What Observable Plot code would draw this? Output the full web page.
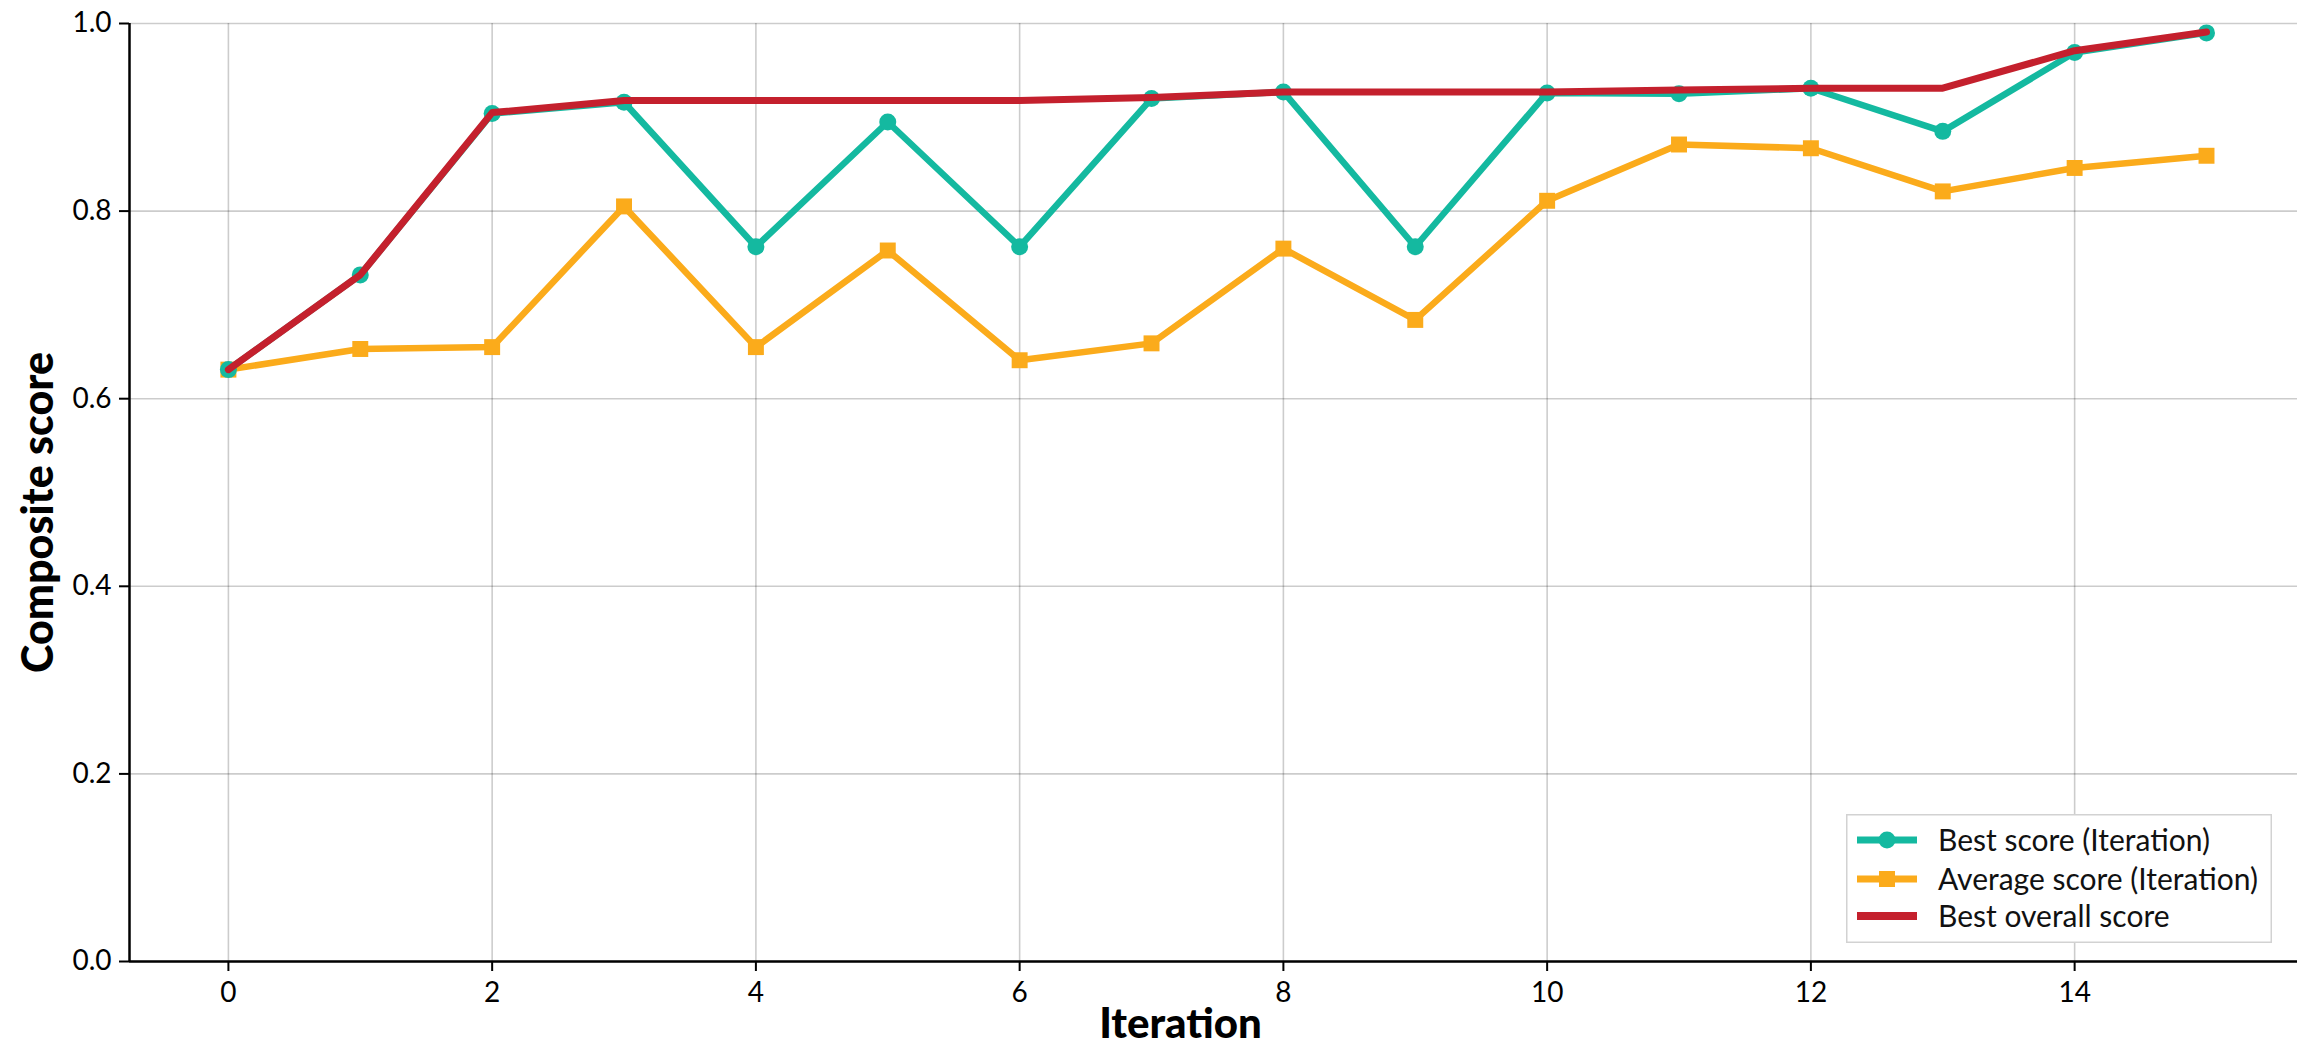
<!DOCTYPE html>
<html>
<head>
<meta charset="utf-8">
<script src="https://cdn.jsdelivr.net/npm/d3@7"></script>
<script src="https://cdn.jsdelivr.net/npm/@observablehq/plot@0.6"></script>
<style>
  html, body { margin: 0; padding: 0; background: #fff; }
  #wrap { position: relative; width: 2297px; height: 1049px; font-family: Lato, "Noto Sans", sans-serif; overflow: hidden; }
  #legend { position: absolute; left: 1846px; top: 814px; }
</style>
</head>
<body>
<div id="wrap"></div>
<script>
// ---- data ----
const iterations = [0, 1, 2, 3, 4, 5, 6, 7, 8, 9, 10, 11, 12, 13, 14, 15];
const bestScore = [0.631, 0.732, 0.904, 0.916, 0.762, 0.895, 0.762, 0.920, 0.927, 0.762, 0.926, 0.925, 0.931, 0.885, 0.969, 0.990];
const avgScore = [0.631, 0.653, 0.655, 0.805, 0.655, 0.758, 0.641, 0.659, 0.760, 0.684, 0.811, 0.871, 0.867, 0.821, 0.846, 0.859];
const bestOverall = [0.631, 0.732, 0.905, 0.918, 0.918, 0.918, 0.918, 0.921, 0.927, 0.927, 0.927, 0.929, 0.931, 0.931, 0.971, 0.991];
const xTicks = [0, 2, 4, 6, 8, 10, 12, 14];
const yTicks = [0, 0.2, 0.4, 0.6, 0.8, 1.0];
const seriesNames = ["Best score (Iteration)", "Average score (Iteration)", "Best overall score"];
const xLabel = "Iteration";
const yLabel = "Composite score";

const teal = "#14b9a0";
const orange = "#fbab1b";
const red = "#c4202d";

const rows = iterations.map((it, i) => ({it, best: bestScore[i], avg: avgScore[i], overall: bestOverall[i]}));

const xMin = -0.75, xMax = 15.69;

const chart = Plot.plot({
  width: 2297,
  height: 1049,
  marginLeft: 129,
  marginRight: 0,
  marginTop: 23,
  marginBottom: 88,
  style: {fontFamily: "Lato, 'Noto Sans', sans-serif", fontSize: "28px", background: "#fff", color: "#000"},
  x: {domain: [xMin, xMax]},
  y: {domain: [0, 1]},
  marks: [
    Plot.gridX(xTicks, {stroke: "#000", strokeOpacity: 0.2, strokeWidth: 1.6}),
    Plot.gridY(yTicks, {stroke: "#000", strokeOpacity: 0.2, strokeWidth: 1.6}),
    Plot.line(rows, {x: "it", y: "avg", stroke: orange, strokeWidth: 6.5}),
    Plot.dot(rows, {x: "it", y: "avg", symbol: "square", r: 9, fill: orange}),
    Plot.line(rows, {x: "it", y: "best", stroke: teal, strokeWidth: 6.5}),
    Plot.dot(rows, {x: "it", y: "best", r: 8.5, fill: teal}),
    Plot.line(rows, {x: "it", y: "overall", stroke: red, strokeWidth: 7}),
    Plot.axisX({ticks: xTicks, tickSize: 10, tickPadding: 11, tickFormat: d => String(d), label: null, stroke: "#000", strokeWidth: 2, fontSize: 28, fill: "#000"}),
    Plot.axisY({ticks: yTicks, tickSize: 10, tickPadding: 8, tickFormat: d3.format(".1f"), label: null, stroke: "#000", strokeWidth: 2, fontSize: 28, fill: "#000"}),
    Plot.ruleY([0], {stroke: "#000", strokeWidth: 2.5}),
    Plot.ruleX([xMin], {stroke: "#000", strokeWidth: 2.5}),
    Plot.text([xLabel], {frameAnchor: "bottom", dx: -33, dy: 63, lineAnchor: "middle", textAnchor: "middle", fontSize: 42, fontWeight: 900, fill: "#000"}),
    Plot.text([yLabel], {frameAnchor: "left", dx: -90, dy: 20, rotate: -90, lineAnchor: "middle", textAnchor: "middle", fontSize: 43, fontWeight: 900, fill: "#000"})
  ]
});

const wrap = document.getElementById("wrap");
wrap.appendChild(chart);

// ---- legend (overlay) ----
const legendDiv = document.createElement("div");
legendDiv.id = "legend";
wrap.appendChild(legendDiv);
const lw = 426, lh = 129;
const lsvg = d3.select(legendDiv).append("svg").attr("width", lw).attr("height", lh);
lsvg.append("rect").attr("x", 0.75).attr("y", 0.75).attr("width", lw - 1.5).attr("height", lh - 1.5)
  .attr("fill", "#fff").attr("stroke", "#d2d2d2").attr("stroke-width", 1.5);
const colors = [teal, orange, red];
const rowY = [26, 65, 102];
seriesNames.forEach((name, i) => {
  const g = lsvg.append("g").attr("transform", `translate(0,${rowY[i]})`);
  g.append("line").attr("x1", 11).attr("x2", 71).attr("y1", 0).attr("y2", 0)
    .attr("stroke", colors[i]).attr("stroke-width", i === 2 ? 8 : 7);
  if (i === 0) g.append("circle").attr("cx", 41).attr("cy", 0).attr("r", 8.5).attr("fill", teal);
  if (i === 1) g.append("rect").attr("x", 33).attr("y", -8).attr("width", 16).attr("height", 16).attr("fill", orange);
  g.append("text").attr("x", 92).attr("y", 0).attr("dy", "0.36em")
    .attr("font-family", "Lato, 'Noto Sans', sans-serif").attr("font-size", 30).attr("fill", "#111").text(name);
});
</script>
</body>
</html>
